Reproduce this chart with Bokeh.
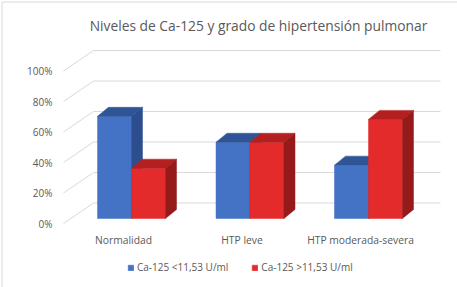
from bokeh.plotting import figure
from bokeh.models import Range1d, Legend, LegendItem
from bokeh.core.properties import value
from bokeh.embed import file_html
from bokeh.resources import INLINE

# ---- data ----
categories = ["Normalidad", "HTP leve", "HTP moderada-severa"]
series_names = ["Ca-125 <11,53 U/ml", "Ca-125 >11,53 U/ml"]
low_values = [67, 50, 35]     # % Ca-125 <11,53 U/ml
high_values = [33, 50, 65]    # % Ca-125 >11,53 U/ml
tick_values = [0, 20, 40, 60, 80, 100]
tick_labels = ["0%", "20%", "40%", "60%", "80%", "100%"]
title_text = "Niveles de Ca-125 y grado de hipertensión pulmonar"

# ---- geometry (pixel scale helpers) ----
W, H = 457, 287
PX_X = 118.5          # pixels per category unit
PX_Y = 1.525          # pixels per percent
X0, Y0 = 131, 218     # pixel of category 0 centre / 0% baseline

def ux(px):  # pixel distance -> x units
    return px / PX_X

def uy(px):  # pixel distance -> percent units
    return px / PX_Y

bar_w = ux(34)
dx, dy = ux(11), uy(9)
front_off = -uy(5)       # front edge of the floor relative to bars
back_off = uy(15.5)      # back wall relative to bars
wall_left = ux(93 - X0)
wall_right = ux(440 - X0)
diag_left = ux(63 - X0)

FONT = "Open Sans"
TXT = "#595959"
GRID = "#D9D9D9"
colors = {
    0: ("#4472C4", "#2F5597", "#2C4E8E"),
    1: ("#E32B2B", "#B41F1F", "#961A1A"),
}

p = figure(width=W, height=H, output_backend="svg", toolbar_location=None,
           x_range=Range1d(ux(0 - X0), ux(W - X0)),
           y_range=Range1d(uy(Y0 - H), uy(Y0 - 0)),
           min_border=0)
p.xaxis.visible = False
p.yaxis.visible = False
p.grid.visible = False
p.outline_line_color = None
p.background_fill_color = "white"
p.border_fill_color = "white"

# chart-area border (left and top edges visible)
bx0, by0 = ux(1.5 - X0), uy(Y0 - 1.5)
p.segment([bx0, bx0], [by0, by0], [bx0, ux(W - X0)], [uy(Y0 - H), by0],
          line_color=GRID, line_width=1)

# ---- walls / gridlines ----
n = len(tick_values)
gy0 = [v + front_off for v in tick_values]
gy1 = [v + back_off for v in tick_values]
p.segment([diag_left] * n, gy0, [wall_left] * n, gy1, line_color=GRID, line_width=1)
p.segment([wall_left] * n, gy1, [wall_right] * n, gy1, line_color=GRID, line_width=1)

# ---- bars ----
legend_renderers = []
for s, vals in enumerate([low_values, high_values]):
    front_c, top_c, side_c = colors[s]
    lefts, rights = [], []
    top_xs, top_ys, side_xs, side_ys = [], [], [], []
    for i, v in enumerate(vals):
        l = i - bar_w + s * bar_w
        r = l + bar_w
        lefts.append(l); rights.append(r)
        top_xs.append([l, r, r + dx, l + dx])
        top_ys.append([v, v, v + dy, v + dy])
        side_xs.append([r, r + dx, r + dx, r])
        side_ys.append([0, dy, v + dy, v])
    fr = p.quad(left=lefts, right=rights, bottom=[0] * len(vals), top=vals,
                fill_color=front_c, line_color=front_c, line_width=0.5)
    p.patches(top_xs, top_ys, fill_color=top_c, line_color=top_c, line_width=0.5)
    p.patches(side_xs, side_ys, fill_color=side_c, line_color=side_c, line_width=0.5)
    legend_renderers.append(fr)

# ---- tick labels ----
p.text(x=[ux(52 - X0)] * n, y=gy0,
       text=tick_labels, text_align="right", text_baseline="middle",
       text_font=value(FONT), text_font_size="10px", text_color=TXT)

# ---- category labels ----
p.text(x=[i + ux(-8) for i in range(len(categories))],
       y=[uy(Y0 - 239)] * len(categories), text=categories,
       text_align="center", text_baseline="middle",
       text_font=value(FONT), text_font_size="10.3px", text_color=TXT)

# ---- title ----
p.text(x=[ux(258 - X0)], y=[uy(Y0 - 25)], text=[title_text],
       text_align="center", text_baseline="middle",
       text_font=value(FONT), text_font_size="13.8px", text_color=TXT)

# ---- legend ----
legend = Legend(items=[LegendItem(label=series_names[k], renderers=[legend_renderers[k]])
                       for k in range(2)],
                orientation="horizontal", location=(127, 13),
                glyph_width=7, glyph_height=7, label_standoff=3, spacing=23,
                padding=0, margin=0, label_height=12,
                label_text_font=FONT, label_text_font_size="10px",
                label_text_color=TXT, border_line_color=None,
                background_fill_alpha=0)
p.add_layout(legend)

open("out.html", "w").write(file_html(p, INLINE))
